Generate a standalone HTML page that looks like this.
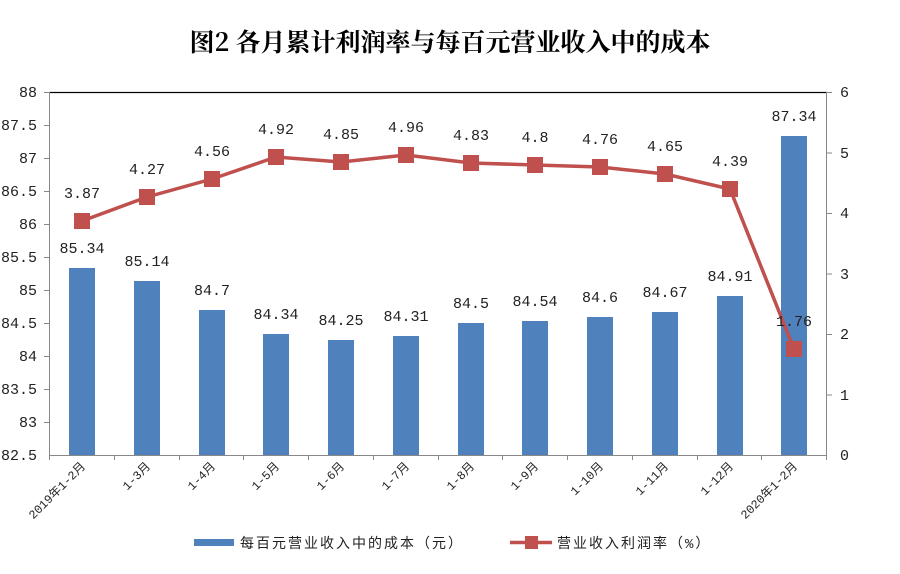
<!DOCTYPE html>
<html><head><meta charset="utf-8"><style>
html,body{margin:0;padding:0;background:#fff}
svg text{font-family:"Liberation Mono","Noto Sans CJK SC",monospace}
</style></head><body>
<svg width="900" height="569" viewBox="0 0 900 569" xmlns="http://www.w3.org/2000/svg">
<rect width="900" height="569" fill="#fff"/>
<text x="450" y="51" text-anchor="middle" font-size="25" font-weight="bold" style="font-family:'Noto Serif CJK SC','Noto Sans CJK SC',serif">图2 各月累计利润率与每百元营业收入中的成本</text>
<line x1="49.5" y1="92.5" x2="827" y2="92.5" stroke="#000" stroke-width="1.2"/>
<line x1="49.5" y1="92" x2="49.5" y2="455" stroke="#888"/>
<line x1="826.5" y1="92" x2="826.5" y2="455" stroke="#888"/>
<line x1="49" y1="455.5" x2="827" y2="455.5" stroke="#888"/>
<g font-size="15" fill="#222" text-anchor="end">
<text x="37" y="97">88</text><text x="37" y="130">87.5</text><text x="37" y="163">87</text><text x="37" y="196">86.5</text><text x="37" y="229">86</text><text x="37" y="262">85.5</text><text x="37" y="295">85</text><text x="37" y="328">84.5</text><text x="37" y="361">84</text><text x="37" y="394">83.5</text><text x="37" y="427">83</text><text x="37" y="460">82.5</text>
</g>
<g stroke="#888">
<line x1="44" y1="92.5" x2="49" y2="92.5"/><line x1="44" y1="125.5" x2="49" y2="125.5"/><line x1="44" y1="158.5" x2="49" y2="158.5"/><line x1="44" y1="191.5" x2="49" y2="191.5"/><line x1="44" y1="224.5" x2="49" y2="224.5"/><line x1="44" y1="257.5" x2="49" y2="257.5"/><line x1="44" y1="290.5" x2="49" y2="290.5"/><line x1="44" y1="323.5" x2="49" y2="323.5"/><line x1="44" y1="356.5" x2="49" y2="356.5"/><line x1="44" y1="389.5" x2="49" y2="389.5"/><line x1="44" y1="422.5" x2="49" y2="422.5"/>
<line x1="827" y1="92.5" x2="832" y2="92.5"/><line x1="827" y1="153" x2="832" y2="153"/><line x1="827" y1="213.5" x2="832" y2="213.5"/><line x1="827" y1="274" x2="832" y2="274"/><line x1="827" y1="334.5" x2="832" y2="334.5"/><line x1="827" y1="395" x2="832" y2="395"/>
</g>
<g font-size="15" fill="#222">
<text x="840" y="97">6</text><text x="840" y="158">5</text><text x="840" y="218">4</text><text x="840" y="279">3</text><text x="840" y="339">2</text><text x="840" y="400">1</text><text x="840" y="460">0</text>
</g>
<g fill="#4F81BD">
<rect x="69" y="268" width="26" height="187"/>
<rect x="134" y="281" width="26" height="174"/>
<rect x="199" y="310" width="26" height="145"/>
<rect x="263" y="334" width="26" height="121"/>
<rect x="328" y="340" width="26" height="115"/>
<rect x="393" y="336" width="26" height="119"/>
<rect x="458" y="323" width="26" height="132"/>
<rect x="522" y="321" width="26" height="134"/>
<rect x="587" y="317" width="26" height="138"/>
<rect x="652" y="312" width="26" height="143"/>
<rect x="717" y="296" width="26" height="159"/>
<rect x="781" y="136" width="26" height="319"/>
</g>
<g stroke="#888">
<line x1="49.5" y1="455" x2="49.5" y2="460"/><line x1="114.5" y1="455" x2="114.5" y2="460"/><line x1="179.5" y1="455" x2="179.5" y2="460"/><line x1="243.5" y1="455" x2="243.5" y2="460"/><line x1="308.5" y1="455" x2="308.5" y2="460"/><line x1="373.5" y1="455" x2="373.5" y2="460"/><line x1="438.5" y1="455" x2="438.5" y2="460"/><line x1="502.5" y1="455" x2="502.5" y2="460"/><line x1="567.5" y1="455" x2="567.5" y2="460"/><line x1="632.5" y1="455" x2="632.5" y2="460"/><line x1="697.5" y1="455" x2="697.5" y2="460"/><line x1="761.5" y1="455" x2="761.5" y2="460"/><line x1="826.5" y1="455" x2="826.5" y2="460"/>
</g>
<g font-size="15" fill="#222" text-anchor="middle">
<text x="82" y="253">85.34</text><text x="147" y="266">85.14</text><text x="212" y="295">84.7</text><text x="276" y="319">84.34</text><text x="341" y="325">84.25</text><text x="406" y="321">84.31</text><text x="471" y="308">84.5</text><text x="535" y="306">84.54</text><text x="600" y="302">84.6</text><text x="665" y="297">84.67</text><text x="730" y="281">84.91</text><text x="794" y="121">87.34</text>
</g>
<polyline fill="none" stroke="#C0504D" stroke-width="3.5" points="82,221 147,197 212,179 276,157 341,162 406,155 471,163 535,165 600,167 665,174 730,189 794,349"/>
<g fill="#C0504D">
<rect x="74" y="213" width="16" height="16"/><rect x="139" y="189" width="16" height="16"/><rect x="204" y="171" width="16" height="16"/><rect x="268" y="149" width="16" height="16"/><rect x="333" y="154" width="16" height="16"/><rect x="398" y="147" width="16" height="16"/><rect x="463" y="155" width="16" height="16"/><rect x="527" y="157" width="16" height="16"/><rect x="592" y="159" width="16" height="16"/><rect x="657" y="166" width="16" height="16"/><rect x="722" y="181" width="16" height="16"/><rect x="786" y="341" width="16" height="16"/>
</g>
<g font-size="15" fill="#222" text-anchor="middle">
<text x="82" y="198">3.87</text><text x="147" y="174">4.27</text><text x="212" y="156">4.56</text><text x="276" y="134">4.92</text><text x="341" y="139">4.85</text><text x="406" y="132">4.96</text><text x="471" y="140">4.83</text><text x="535" y="142">4.8</text><text x="600" y="144">4.76</text><text x="665" y="151">4.65</text><text x="730" y="166">4.39</text><text x="794" y="326">1.76</text>
</g>
<g font-size="12" fill="#222" text-anchor="end" style="font-family:'Liberation Serif','Noto Serif CJK SC',serif">
<text transform="translate(86,467) rotate(-45)">2019年1-2月</text>
<text transform="translate(151,467) rotate(-45)">1-3月</text>
<text transform="translate(216,467) rotate(-45)">1-4月</text>
<text transform="translate(280,467) rotate(-45)">1-5月</text>
<text transform="translate(345,467) rotate(-45)">1-6月</text>
<text transform="translate(410,467) rotate(-45)">1-7月</text>
<text transform="translate(475,467) rotate(-45)">1-8月</text>
<text transform="translate(539,467) rotate(-45)">1-9月</text>
<text transform="translate(604,467) rotate(-45)">1-10月</text>
<text transform="translate(669,467) rotate(-45)">1-11月</text>
<text transform="translate(734,467) rotate(-45)">1-12月</text>
<text transform="translate(798,467) rotate(-45)">2020年1-2月</text>
</g>
<rect x="194" y="539" width="40" height="7" fill="#4F81BD"/>
<text x="240" y="548" font-size="14" fill="#222" letter-spacing="2">每百元营业收入中的成本（元）</text>
<line x1="510" y1="542.5" x2="552" y2="542.5" stroke="#C0504D" stroke-width="3.5"/>
<rect x="525" y="536" width="13" height="13" fill="#C0504D"/>
<text x="557" y="548" font-size="14" fill="#222" letter-spacing="2">营业收入利润率（%）</text>
</svg>
</body></html>
